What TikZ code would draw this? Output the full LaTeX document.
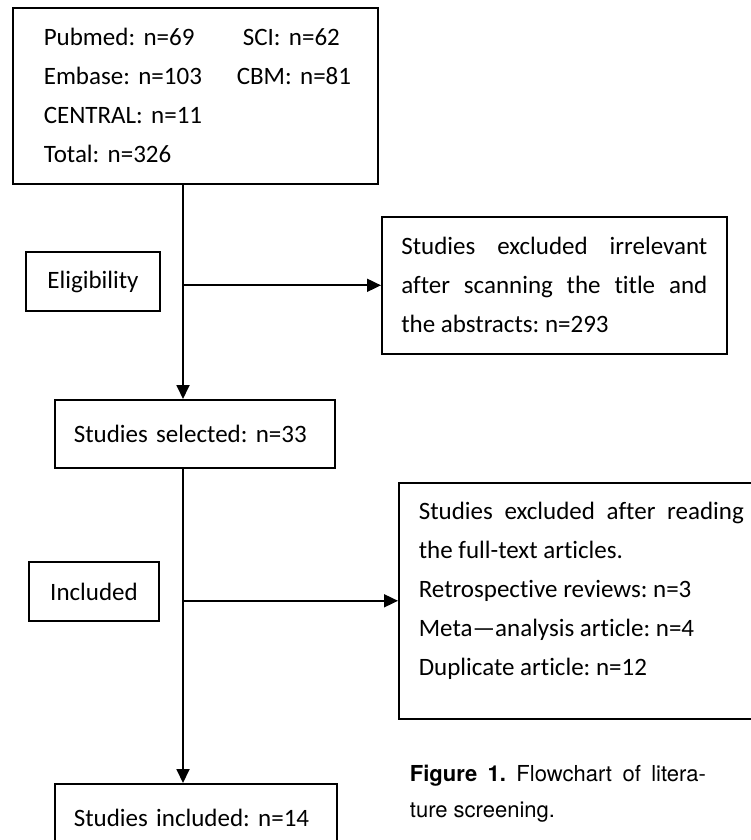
\documentclass[tikz,border=0pt]{standalone}
\usepackage{fontspec}
\setmainfont{Carlito}[Ligatures={TeX,NoCommon}]
\newfontfamily\capfont{TeX Gyre Heros}
\usetikzlibrary{arrows.meta}
\frenchspacing
\tikzset{box/.style={draw,rectangle,line width=1.6pt,inner sep=0pt,font=\fontsize{25}{39}\selectfont}}

\begin{document}
\begin{tikzpicture}[x=1pt,y=-1pt,line width=1.8pt,>={Triangle[length=14pt,width=13pt]}]
\tikzset{flow/.style={->}}
\useasboundingbox (0,0) rectangle (751,840);
\clip (0,0) rectangle (751,840);

\node[box,anchor=north west,minimum width=365pt,minimum height=176pt,text width=303pt,align=left] (src) at (12,7)
{\begin{tabular}{@{}p{193pt}@{}l@{}}
Pubmed: n=69 & \hspace{6pt}SCI: n=62\\
Embase: n=103 & CBM: n=81\\
CENTRAL: n=11 & \\
Total: n=326 &
\end{tabular}};
\node[box,minimum width=134pt,minimum height=59pt] (elig) at (93,281.5) {Eligibility};
\node[box,anchor=north west,minimum width=345pt,minimum height=137pt,text width=306pt,align=justify] (excl1) at (381,216)
{Studies excluded irrelevant\linebreak after scanning the title and\linebreak the abstracts: n=293};
\node[box,anchor=north west,minimum width=280pt,minimum height=68pt,text width=242pt,align=left] (sel) at (54,399) {Studies selected: n=33};
\node[box,minimum width=130pt,minimum height=59pt] (incl) at (94,591.5) {Included};
\node[box,anchor=north west,minimum width=365pt,minimum height=236pt,text width=325pt,align=justify] (excl2) at (398,482)
{Studies excluded after reading\linebreak the full-text articles.\\
Retrospective reviews: n=3\\
Meta---analysis article: n=4\\
Duplicate article: n=12\rule[-23pt]{0pt}{0pt}};
\node[box,anchor=north west,minimum width=282pt,minimum height=68pt,text width=244pt,align=left] (bot) at (54,783) {Studies included: n=14};
\node[anchor=north west,inner sep=0pt,text width=296pt,align=justify,font=\capfont\fontsize{22}{36}\selectfont] (cap) at (409,764)
{\textbf{Figure 1.} Flowchart of litera-\linebreak ture screening.};

\coordinate (t) at (183,0);
\draw[flow] (src.south -| t) -- (sel.north -| t);
\draw[flow] (excl1.west -| t) -- (excl1.west);
\draw[flow] (sel.south -| t) -- (bot.north -| t);
\draw[flow] (excl2.west -| t) -- (excl2.west);

\end{tikzpicture}
\end{document}
